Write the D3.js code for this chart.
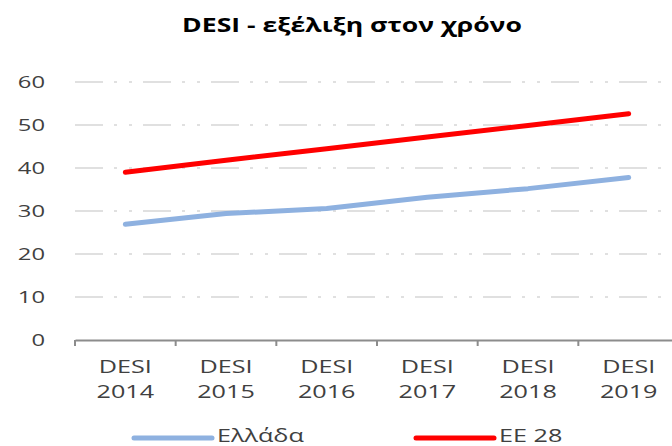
<!DOCTYPE html>
<html>
<head>
<meta charset="utf-8">
<script src="https://cdn.jsdelivr.net/npm/d3@7"></script>
<style>
  body { margin: 0; background: #fff; }
  text { font-family: "Open Sans", "Noto Sans", sans-serif; fill: #404040; }
</style>
</head>
<body>
<svg id="chart" width="672" height="446"></svg>
<script>
// data
var categories = ["DESI 2014", "DESI 2015", "DESI 2016", "DESI 2017", "DESI 2018", "DESI 2019"];
var greece = [26.9, 29.4, 30.6, 33.2, 35.2, 37.8];
var eu28 = [39.0, 41.8, 44.5, 47.2, 49.9, 52.6];
var yTicks = [0, 10, 20, 30, 40, 50, 60];
var seriesNames = ["Ελλάδα", "EE 28"];
var seriesColors = ["#8eb1e0", "#ff0000"];

var svg = d3.select("#chart"),
    MARGINS = { top: 82, right: -7, bottom: 106, left: 75 },
    WIDTH = 672, HEIGHT = 446,
    STRETCH = 1.4; // the picture's text is stretched wide

var x = d3.scaleBand()
  .domain(categories)
  .range([MARGINS.left, WIDTH - MARGINS.right]);

var y = d3.scaleLinear()
  .domain([0, 60])
  .range([HEIGHT - MARGINS.bottom, MARGINS.top]);

function place(tx, ty) {
  return "translate(" + tx + "," + ty + ") scale(" + STRETCH + ",1)";
}

// title
svg.append("text")
  .attr("transform", place(352, 32))
  .attr("text-anchor", "middle")
  .style("font-weight", "bold")
  .style("font-size", "19px")
  .style("fill", "#000")
  .text("DESI - εξέλιξη στον χρόνο");

// gridlines
svg.append("g")
  .selectAll("line")
  .data(yTicks.filter(function(d) { return d > 0; }))
  .enter().append("line")
  .attr("x1", MARGINS.left)
  .attr("x2", WIDTH)
  .attr("y1", function(d) { return y(d); })
  .attr("y2", function(d) { return y(d); })
  .style("stroke", "#d6d6d6")
  .style("stroke-width", 1.5)
  .style("stroke-dasharray", "28,11,3,12,3,11");

// y labels
svg.append("g")
  .selectAll("text")
  .data(yTicks)
  .enter().append("text")
  .attr("transform", function(d) { return place(45, y(d)); })
  .attr("dy", "0.36em")
  .attr("text-anchor", "end")
  .style("font-size", "17px")
  .text(function(d) { return d; });

// x axis
var xAxis = d3.axisBottom(x).tickSize(0).tickFormat("");
var gx = svg.append("g")
  .attr("transform", "translate(0," + y(0) + ")")
  .call(xAxis);
gx.select(".domain").style("stroke", "#8c8c8c").style("stroke-width", 2);
var bounds = categories.map(function(c) { return x(c); }).concat([x.range()[1]]);
gx.selectAll(".sep")
  .data(bounds)
  .enter().append("line")
  .attr("x1", function(d) { return d; })
  .attr("x2", function(d) { return d; })
  .attr("y1", 0)
  .attr("y2", 6)
  .style("stroke", "#8c8c8c")
  .style("stroke-width", 2);

var labels = svg.append("g")
  .selectAll("text")
  .data(categories)
  .enter().append("text")
  .attr("text-anchor", "middle")
  .style("font-size", "18px")
  .attr("transform", function(d) {
    return place(x(d) + x.bandwidth() / 2, 373);
  });
labels.append("tspan")
  .attr("x", 0)
  .text(function(d) { return d.split(" ")[0]; });
labels.append("tspan")
  .attr("x", 0)
  .attr("dy", 25)
  .text(function(d) { return d.split(" ")[1]; });

// lines
var line = d3.line()
  .x(function(d, i) { return x(categories[i]) + x.bandwidth() / 2; })
  .y(function(d) { return y(d); });

[greece, eu28].forEach(function(s, i) {
  svg.append("path")
    .datum(s)
    .attr("d", line)
    .style("fill", "none")
    .style("stroke", seriesColors[i])
    .style("stroke-width", 5)
    .style("stroke-linecap", "round")
    .style("stroke-linejoin", "round");
});

// legend
var legendX = [134, 416];
seriesNames.forEach(function(n, i) {
  svg.append("line")
    .attr("x1", legendX[i])
    .attr("x2", legendX[i] + 78)
    .attr("y1", 438)
    .attr("y2", 438)
    .style("stroke", seriesColors[i])
    .style("stroke-width", 5)
    .style("stroke-linecap", "round");
  svg.append("text")
    .attr("transform", place(legendX[i] + 83, 442))
    .style("font-size", "18px")
    .text(n);
});
</script>
</body>
</html>
